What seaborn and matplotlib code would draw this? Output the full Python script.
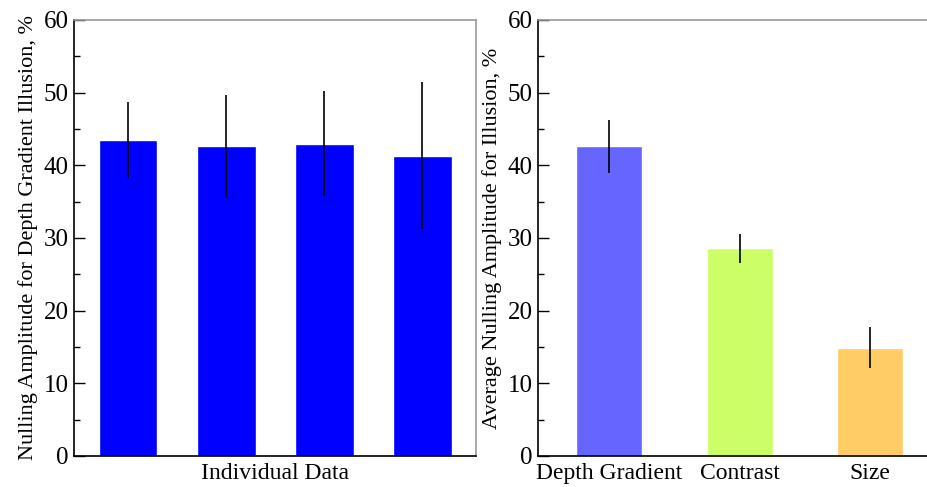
import numpy as np
import pandas as pd
import seaborn as sns
import matplotlib.pyplot as plt
from matplotlib.ticker import MultipleLocator

# data
subjects = ["S1", "S2", "S3", "S4"]
subject_means = [43.5, 42.6, 43.0, 41.3]
subject_err = [5.2, 7.1, 7.2, 10.1]

illusions = ["Depth Gradient", "Contrast", "Size"]
illusion_means = [42.6, 28.6, 14.9]
illusion_err = [3.7, 2.0, 2.8]
illusion_colors = ["#6666FF", "#CCFF66", "#FFCC66"]

sns.set_style("white")
plt.rcParams['font.family'] = ['Liberation Serif', 'DejaVu Serif']
plt.rcParams['font.size'] = 16
for k in ("text.color", "axes.labelcolor", "xtick.color", "ytick.color"):
    plt.rcParams[k] = "black"

fig = plt.figure(figsize=(9.27, 4.87), dpi=100)
ax1 = fig.add_axes([74 / 927, 1 - 456 / 487, 402 / 927, 436 / 487])
ax2 = fig.add_axes([538 / 927, 1 - 456 / 487, 392 / 927, 436 / 487])

# =====================
# LEFT PANEL
# =====================
df1 = pd.DataFrame({"subject": subjects, "mean": subject_means})
sns.barplot(data=df1, x="subject", y="mean", color="#0000FF", saturation=1,
            width=0.6, errorbar=None, ax=ax1)
ax1.errorbar(np.arange(len(subjects)), subject_means, yerr=subject_err,
             fmt="none", ecolor="black", elinewidth=1.2, capsize=0)
ax1.set_xlim(-0.55, 3.545)
ax1.set_xticks([])
ax1.set_xlabel("Individual Data", fontsize=17, labelpad=5)
ax1.set_ylabel("Nulling Amplitude for Depth Gradient Illusion, %", fontsize=16)

# =====================
# RIGHT PANEL
# =====================
df2 = pd.DataFrame({"illusion": illusions, "mean": illusion_means})
sns.barplot(data=df2, x="illusion", y="mean", hue="illusion",
            palette=illusion_colors, saturation=1, width=0.505,
            errorbar=None, legend=False, ax=ax2)
ax2.errorbar(np.arange(len(illusions)), illusion_means, yerr=illusion_err,
             fmt="none", ecolor="black", elinewidth=1.2, capsize=0)
ax2.set_xlim(-0.546, 2.46)
ax2.tick_params(axis="x", length=0, pad=5, labelsize=17)
ax2.set_xlabel("")
ax2.set_ylabel("Average Nulling Amplitude for Illusion, %", fontsize=16)

for ax in (ax1, ax2):
    ax.set_ylim(0, 60)
    ax.yaxis.set_major_locator(MultipleLocator(10))
    ax.yaxis.set_minor_locator(MultipleLocator(5))
    ax.tick_params(axis="y", which="major", direction="in", length=8,
                   width=1, labelsize=18, pad=4, left=True)
    ax.tick_params(axis="y", which="minor", direction="in", length=4,
                   width=1, left=True)
    ax.spines["left"].set_color("black")
    ax.spines["bottom"].set_color("black")
    ax.spines["top"].set_color("#999999")
    ax.spines["right"].set_color("#999999")
    for s in ax.spines.values():
        s.set_linewidth(1.2)

fig.savefig("out.png", dpi=100)
